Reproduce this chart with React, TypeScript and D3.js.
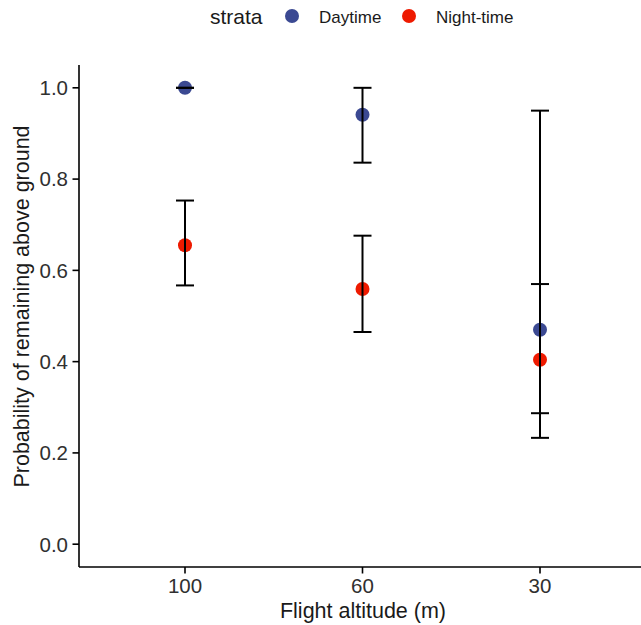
import React from "react";
import * as d3 from "d3";

const categories = ["100", "60", "30"];
const strata = ["Daytime", "Night-time"];
const colors = ["#3B4992", "#EE1A00"];
const dayMean = [1.0, 0.941, 0.47];
const dayLow = [1.0, 0.836, 0.287];
const dayHigh = [1.0, 1.0, 0.95];
const nightMean = [0.655, 0.559, 0.404];
const nightLow = [0.567, 0.465, 0.233];
const nightHigh = [0.753, 0.676, 0.57];
const yTicks = [0, 0.2, 0.4, 0.6, 0.8, 1.0];

export default function App() {
  const W = 641, H = 625;
  const left = 79, top = 65, bottom = 567;
  const step = 177.5;
  const x = d3.scalePoint<string>().domain(categories).range([185, 185 + 2 * step]);
  const y = d3.scaleLinear().domain([-0.05, 1.05]).range([bottom, top]);
  const font = "'Liberation Sans', Arial, sans-serif";
  const series = [
    { mean: dayMean, low: dayLow, high: dayHigh, color: colors[0] },
    { mean: nightMean, low: nightLow, high: nightHigh, color: colors[1] },
  ];
  const cap = 9;
  return (
    <svg width={W} height={H} style={{ position: "absolute", left: 0, top: 0, background: "#fff" }} fontFamily={font}>
      {/* legend */}
      <text x={210} y={24} fontSize={21} fill="#1a1a1a">strata</text>
      {strata.map((s, i) => (
        <g key={s}>
          <circle cx={i === 0 ? 292 : 409} cy={16} r={7} fill={colors[i]} />
          <text x={i === 0 ? 319 : 436} y={23} fontSize={17} fill="#1a1a1a">{s}</text>
        </g>
      ))}
      {/* points */}
      {series.map((s, si) =>
        categories.map((c, i) => (
          <circle key={`p${si}${i}`} cx={x(c)!} cy={y(s.mean[i])} r={7} fill={s.color} />
        ))
      )}
      {/* error bars */}
      {series.map((s, si) =>
        categories.map((c, i) => {
          const cx = x(c)!;
          return (
            <g key={`e${si}${i}`} stroke="#000" strokeWidth={2}>
              <line x1={cx} x2={cx} y1={y(s.low[i])} y2={y(s.high[i])} />
              <line x1={cx - cap} x2={cx + cap} y1={y(s.low[i])} y2={y(s.low[i])} />
              <line x1={cx - cap} x2={cx + cap} y1={y(s.high[i])} y2={y(s.high[i])} />
            </g>
          );
        })
      )}
      {/* axes */}
      <line x1={left} x2={left} y1={top} y2={bottom} stroke="#000" strokeWidth={1.6} />
      <line x1={left} x2={W} y1={bottom} y2={bottom} stroke="#000" strokeWidth={1.6} />
      {yTicks.map((t) => (
        <g key={t}>
          <line x1={left - 6.5} x2={left} y1={y(t)} y2={y(t)} stroke="#000" strokeWidth={1.6} />
          <text x={68} y={y(t)} dy="0.36em" textAnchor="end" fontSize={20.5} fill="#303030">{t.toFixed(1)}</text>
        </g>
      ))}
      {categories.map((c) => (
        <g key={c}>
          <line x1={x(c)!} x2={x(c)!} y1={bottom} y2={bottom + 6.5} stroke="#000" strokeWidth={1.6} />
          <text x={x(c)!} y={593} textAnchor="middle" fontSize={20.5} fill="#303030">{c}</text>
        </g>
      ))}
      <text x={363} y={618} textAnchor="middle" fontSize={21.5} fill="#1a1a1a">Flight altitude (m)</text>
      <text transform={`translate(29,306.5) rotate(-90)`} textAnchor="middle" fontSize={21.5} fill="#1a1a1a">
        Probability of remaining above ground
      </text>
    </svg>
  );
}
